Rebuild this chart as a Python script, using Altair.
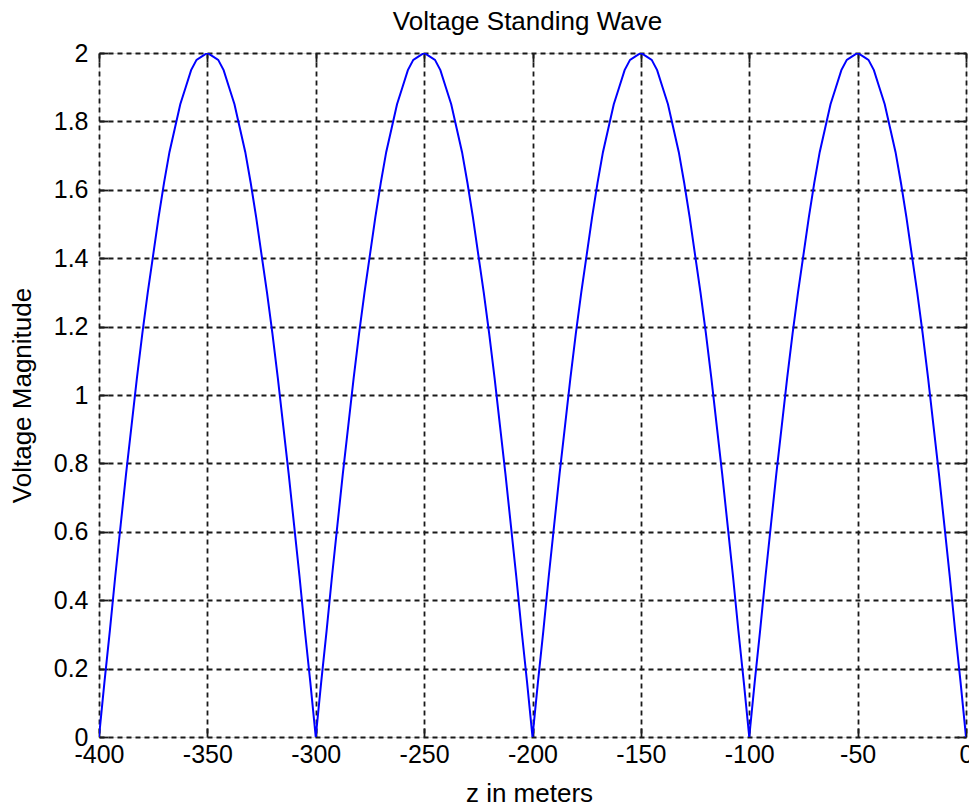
import altair as alt
import pandas as pd

# Voltage magnitude, every 2.5 m from z = -400 to z = 0
volts = [
    0.00, 0.16, 0.31, 0.47, 0.62, 0.77, 0.91, 1.05, 1.18, 1.30, 1.41, 1.52, 1.62, 1.71, 1.78, 1.85, 1.90, 1.95, 1.98, 1.99,
    2.00, 1.99, 1.98, 1.95, 1.90, 1.85, 1.78, 1.71, 1.62, 1.52, 1.41, 1.30, 1.18, 1.05, 0.91, 0.77, 0.62, 0.47, 0.31, 0.16,
    0.00, 0.16, 0.31, 0.47, 0.62, 0.77, 0.91, 1.05, 1.18, 1.30, 1.41, 1.52, 1.62, 1.71, 1.78, 1.85, 1.90, 1.95, 1.98, 1.99,
    2.00, 1.99, 1.98, 1.95, 1.90, 1.85, 1.78, 1.71, 1.62, 1.52, 1.41, 1.30, 1.18, 1.05, 0.91, 0.77, 0.62, 0.47, 0.31, 0.16,
    0.00, 0.16, 0.31, 0.47, 0.62, 0.77, 0.91, 1.05, 1.18, 1.30, 1.41, 1.52, 1.62, 1.71, 1.78, 1.85, 1.90, 1.95, 1.98, 1.99,
    2.00, 1.99, 1.98, 1.95, 1.90, 1.85, 1.78, 1.71, 1.62, 1.52, 1.41, 1.30, 1.18, 1.05, 0.91, 0.77, 0.62, 0.47, 0.31, 0.16,
    0.00, 0.16, 0.31, 0.47, 0.62, 0.77, 0.91, 1.05, 1.18, 1.30, 1.41, 1.52, 1.62, 1.71, 1.78, 1.85, 1.90, 1.95, 1.98, 1.99,
    2.00, 1.99, 1.98, 1.95, 1.90, 1.85, 1.78, 1.71, 1.62, 1.52, 1.41, 1.30, 1.18, 1.05, 0.91, 0.77, 0.62, 0.47, 0.31, 0.16,
    0.00,
]
z_start = -400
z_step = 2.5
z = [z_start + z_step * i for i in range(len(volts))]

x_ticks = [-400, -350, -300, -250, -200, -150, -100, -50, 0]
y_ticks = [0, 0.2, 0.4, 0.6, 0.8, 1, 1.2, 1.4, 1.6, 1.8, 2]

title_text = "Voltage Standing Wave"
x_title = "z in meters"
y_title = "Voltage Magnitude"

df = pd.DataFrame({"z": z, "v": volts})

W, H = 867, 684
FONT = "Liberation Sans"
FS = 25
TFS = 26
INK = "#1a1a1a"

xs = alt.Scale(domain=[-400, 0], nice=False, zero=False)
ys = alt.Scale(domain=[0, 2], nice=False, zero=False)

main = alt.Chart(df).mark_line(color="#0000ff", strokeWidth=2, clip=True).encode(
    x=alt.X(
        "z:Q", scale=xs,
        axis=alt.Axis(
            orient="bottom", values=x_ticks, labelExpr="'' + datum.value",
            grid=True, gridDash=[5, 4], gridColor=INK, gridWidth=1.8, gridOpacity=1,
            ticks=False, tickSize=0, domain=False,
            labelFont=FONT, labelFontSize=FS, labelColor="#000", labelPadding=5,
            labelFlush=False, labelOverlap=False, labelBaseline="top",
            title=x_title, titleFont=FONT, titleFontSize=TFS, titleFontWeight="normal",
            titleColor="#000", titleX=430, titleY=64, titleBaseline="alphabetic", titleAlign="center",
        ),
    ),
    y=alt.Y(
        "v:Q", scale=ys,
        axis=alt.Axis(
            orient="left", values=y_ticks, labelExpr="'' + datum.value",
            grid=True, gridDash=[5, 4], gridColor=INK, gridWidth=1.8, gridOpacity=1,
            ticks=False, tickSize=0, domain=False,
            labelFont=FONT, labelFontSize=FS, labelColor="#000", labelPadding=11,
            labelFlush=False, labelOverlap=False, labelBaseline="middle", labelAlign="right",
            title=y_title, titleFont=FONT, titleFontSize=TFS, titleFontWeight="normal",
            titleColor="#000", titleX=-69, titleY=H / 2, titleAngle=270,
            titleBaseline="alphabetic", titleAlign="center",
        ),
    ),
)

def tick_axis(orient, values):
    return alt.Axis(
        orient=orient, offset=-9, values=values, labels=False, grid=False,
        domain=False, ticks=True, tickSize=9, tickColor=INK, tickWidth=1.8, title=None,
    )

ticks_a = alt.Chart(df).mark_line(strokeOpacity=0).encode(
    x=alt.X("z:Q", scale=xs, axis=tick_axis("bottom", x_ticks)),
    y=alt.Y("v:Q", scale=ys, axis=tick_axis("left", y_ticks)),
)
ticks_b = alt.Chart(df).mark_line(strokeOpacity=0).encode(
    x=alt.X("z:Q", scale=xs, axis=tick_axis("top", x_ticks)),
    y=alt.Y("v:Q", scale=ys, axis=tick_axis("right", y_ticks)),
)

chart = alt.layer(main, ticks_a, ticks_b).resolve_axis(
    x="independent", y="independent"
).properties(
    width=W, height=H,
    title=alt.TitleParams(
        title_text, font=FONT, fontSize=TFS, fontWeight="normal", color="#000",
        anchor="middle", frame="group", offset=10.5, baseline="alphabetic", dx=-5, dy=25,
    ),
    autosize=alt.AutoSizeParams(type="none"),
    padding={"left": 99, "top": 53, "right": 3, "bottom": 69},
).configure_view(
    stroke="#262626", strokeWidth=2
).configure(
    background="white"
)

chart.save("out.html", embed_options={"renderer": "svg", "actions": False})
